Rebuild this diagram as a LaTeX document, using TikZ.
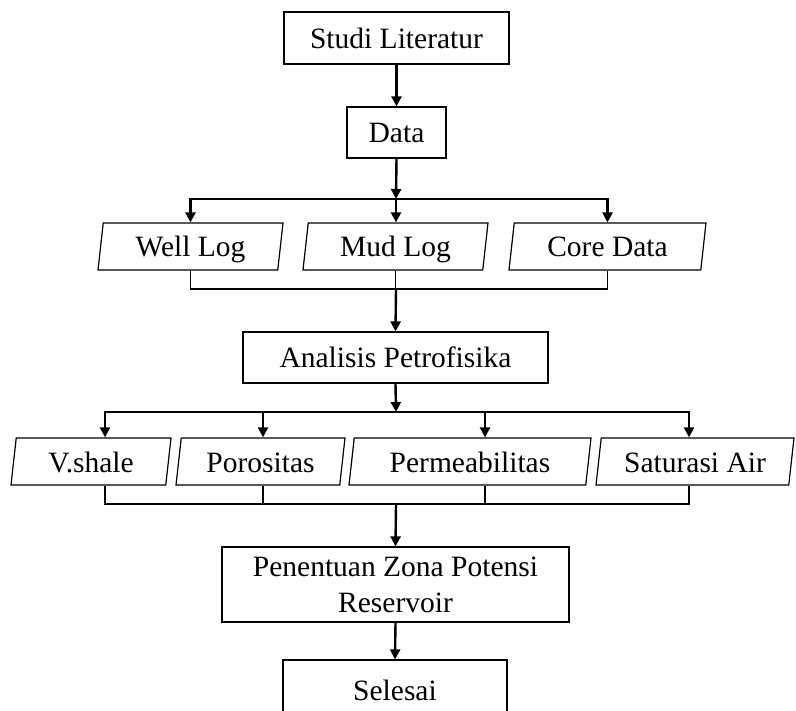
\documentclass[tikz,border=0pt]{standalone}
\usepackage{fontspec}
\setmainfont{Liberation Serif}
\usetikzlibrary{arrows.meta, shapes.geometric}

\begin{document}
\begin{tikzpicture}[x=1pt, y=-1pt,
    procbox/.style={draw, line width=1.2pt, inner sep=0pt, align=center,
      font=\fontsize{29.5}{36}\selectfont},
    databox/.style={draw, line width=1.2pt, inner sep=0pt, trapezium,
      trapezium left angle=76, trapezium right angle=104,
      trapezium stretches body, minimum height=47pt,
      text height=21pt, text depth=0pt,
      font=\fontsize{29.5}{36}\selectfont},
    arr/.style={line width=2.4pt, -{Triangle[length=10pt, width=10pt]}},
    link/.style={line width=1.8pt}]
    \useasboundingbox (0,0) rectangle (796,711);

    % Main process boxes
    \node[procbox, minimum width=225pt, minimum height=52pt] (studi) at (396.5,38) {Studi Literatur};
    \node[procbox, minimum width=99pt, minimum height=51pt] (data) at (396.5,132.5) {Data};
    \node[procbox, minimum width=305pt, minimum height=51pt] (analisis) at (395.5,357.5) {Analisis Petrofisika};
    \node[procbox, minimum width=347pt, minimum height=75pt] (zona) at (395.5,584.5) {Penentuan Zona Potensi\\Reservoir};
    \node[procbox, minimum width=224pt, minimum height=60pt] (selesai) at (395,690) {Selesai};

    % Input data
    \node[databox, minimum width=185pt] (well) at (190.5,246.5) {Well Log};
    \node[databox, minimum width=185pt] (mud) at (395.5,246.5) {Mud Log};
    \node[databox, minimum width=197pt] (core) at (607.5,246.5) {Core Data};

    % Petrophysical parameters
    \node[databox, minimum width=160pt] (vshale) at (91,461.5) {V.shale};
    \node[databox, minimum width=169pt] (poro) at (260.5,461.5) {Porositas};
    \node[databox, minimum width=242pt] (perm) at (470,461.5) {Permeabilitas};
    \node[databox, minimum width=198pt] (satair) at (695,461.5) {Saturasi Air};

    % Branch and join points
    \coordinate (split1) at (396,199);
    \coordinate (join1) at (396,289);
    \coordinate (split2) at (396,412);
    \coordinate (join2) at (396,504);

    % Studi Literatur -> Data -> logs
    \draw[arr] (studi.south) -- (data.north);
    \draw[arr] (data.south) -- (split1);
    \draw[arr] (split1) -- (split1 |- mud.north);
    \draw[arr] (split1) -| (well.north);
    \draw[arr] (split1) -| (core.north);

    % logs -> Analisis Petrofisika
    \draw[link] (well.south) |- (join1) -| (core.south);
    \draw[link] (mud.south) -- (mud.south |- join1);
    \draw[arr] (join1) -- (analisis.north);

    % Analisis Petrofisika -> parameters
    \draw[arr] (analisis.south) -- (split2);
    \draw[arr] (split2) -| ([xshift=14pt]vshale.north);
    \draw[arr] (split2) -| ([xshift=2.5pt]poro.north);
    \draw[arr] (split2) -| ([xshift=15pt]perm.north);
    \draw[arr] (split2) -| ([xshift=-6pt]satair.north);

    % parameters -> Penentuan Zona -> Selesai
    \draw[link] ([xshift=14pt]vshale.south) |- (join2) -| ([xshift=-6pt]satair.south);
    \draw[link] ([xshift=2.5pt]poro.south) -- ([xshift=2.5pt]poro.south |- join2);
    \draw[link] ([xshift=15pt]perm.south) -- ([xshift=15pt]perm.south |- join2);
    \draw[arr] (join2) -- (zona.north);
    \draw[arr] (zona.south) -- (selesai.north);
\end{tikzpicture}
\end{document}
